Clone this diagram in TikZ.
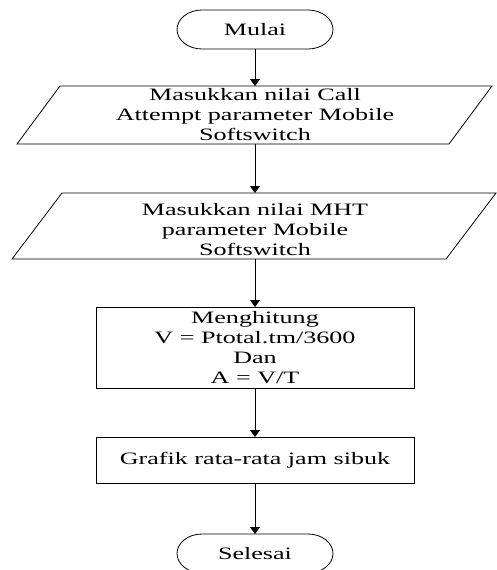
\documentclass[tikz,border=0pt]{standalone}
\usepackage{fontspec}
\setmainfont{Liberation Serif}[FakeStretch=1.5]
\usetikzlibrary{arrows.meta}
\begin{document}
\begin{tikzpicture}[x=1pt,y=1pt,line width=0.8pt,
  base/.style={inner sep=0pt,outer sep=0pt,align=center,font=\fontsize{17.4}{20}\selectfont},
  proc/.style={base,draw,minimum width=318pt},
  flow/.style={-{Triangle[length=7pt,width=10pt]}}]
\useasboundingbox (0,0) rectangle (497,-570);
\clip (0,0) rectangle (497,-570);
% start terminator
\node[base,minimum width=156pt,minimum height=39pt] (start) at (255,-29.5) {Mulai};
\draw ([xshift=25pt]start.north west) -- ([xshift=-25pt]start.north east)
  arc[start angle=90,end angle=-90,x radius=25pt,y radius=19.5pt]
  -- ([xshift=25pt]start.south west)
  arc[start angle=270,end angle=90,x radius=25pt,y radius=19.5pt] -- cycle;
% input 1
\node[base,minimum height=58pt] (in1) at (255,-115) {Masukkan nilai Call\\Attempt parameter Mobile\\Softswitch};
\draw (60,-86) -- (492,-86) -- (449,-144) -- (17,-144) -- cycle;
% input 2
\node[base,minimum height=66pt,minimum width=380pt] (in2) at (255,-226) {};
\node[base] (in2t) at (255,-230) {Masukkan nilai MHT\\parameter Mobile\\Softswitch};
\draw (62,-193) -- (496,-193) -- (446,-259) -- (12,-259) -- cycle;
% process
\node[proc,minimum height=81pt] (calc) at (255,-347.5) {Menghitung\\V = Ptotal.tm/3600\\Dan\\A = V/T};
\node[proc,minimum height=46pt] (graf) at (255,-460) {Grafik rata-rata jam sibuk};
% end terminator
\node[base,minimum width=156pt,minimum height=39pt] (stop) at (255,-553.5) {Selesai};
\draw ([xshift=25pt]stop.north west) -- ([xshift=-25pt]stop.north east)
  arc[start angle=90,end angle=-90,x radius=25pt,y radius=19.5pt]
  -- ([xshift=25pt]stop.south west)
  arc[start angle=270,end angle=90,x radius=25pt,y radius=19.5pt] -- cycle;
% connectors
\draw[flow] (start) -- (in1);
\draw[flow] (in1) -- (in2);
\draw[flow] (in2) -- (calc);
\draw[flow] (calc) -- (graf);
\draw[flow] (graf) -- (stop);
\end{tikzpicture}
\end{document}
